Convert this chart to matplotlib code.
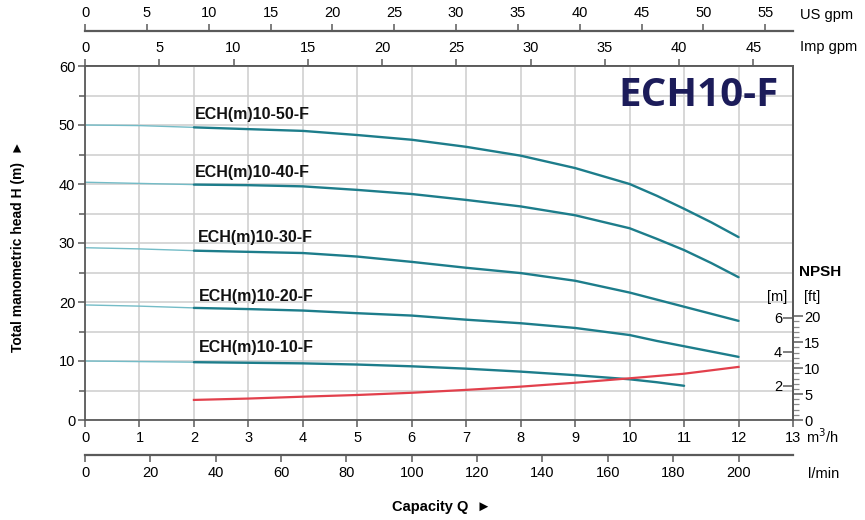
import matplotlib
matplotlib.use('Agg')
import matplotlib.pyplot as plt
from matplotlib.ticker import FixedLocator, MultipleLocator

FONT = ['Liberation Sans Narrow', 'Liberation Sans', 'DejaVu Sans']
plt.rcParams['font.family'] = FONT

# ---------------- data ----------------
q_curve = [0, 1, 2, 3, 4, 5, 6, 7, 8, 9, 10, 10.5, 11, 11.5, 12]
head_50 = [50.0, 49.9, 49.6, 49.3, 49.0, 48.3, 47.5, 46.3, 44.8, 42.7, 40.0, 38.0, 35.8, 33.5, 31.0]
head_40 = [40.3, 40.1, 39.9, 39.8, 39.6, 39.0, 38.3, 37.3, 36.2, 34.7, 32.5, 30.7, 28.8, 26.6, 24.2]
head_30 = [29.2, 29.0, 28.7, 28.5, 28.3, 27.7, 26.8, 25.8, 24.9, 23.6, 21.6, 20.4, 19.2, 18.0, 16.8]
head_20 = [19.5, 19.3, 19.0, 18.8, 18.55, 18.1, 17.7, 17.0, 16.4, 15.6, 14.4, 13.4, 12.5, 11.6, 10.7]
q_10 = [0, 1, 2, 3, 4, 5, 6, 7, 8, 9, 10, 10.5, 11]
head_10 = [10.0, 9.9, 9.8, 9.7, 9.6, 9.4, 9.1, 8.7, 8.2, 7.6, 6.9, 6.4, 5.8]

q_npsh = [2, 3, 4, 5, 6, 7, 8, 9, 10, 11, 12]
npsh_m = [1.18, 1.26, 1.37, 1.47, 1.60, 1.77, 1.96, 2.19, 2.45, 2.72, 3.12]

model_names = ['ECH(m)10-50-F', 'ECH(m)10-40-F', 'ECH(m)10-30-F', 'ECH(m)10-20-F', 'ECH(m)10-10-F']
title_text = 'ECH10-F'

m3h_ticks = list(range(0, 14))
head_ticks = list(range(0, 61, 10))
us_gpm_ticks = list(range(0, 56, 5))
imp_gpm_ticks = list(range(0, 46, 5))
lmin_ticks = list(range(0, 201, 20))
npsh_m_ticks = [2, 4, 6]
npsh_ft_ticks = [0, 5, 10, 15, 20]

# ---------------- styles ----------------
TEAL = '#1d7d8b'
TEAL_LIGHT = '#74bcc7'
RED = '#e2404c'
GRID = '#cdcdcd'
SPINE = '#5a5a5a'
NAVY = '#1c1c5a'
W, H = 865, 520

fig = plt.figure(figsize=(W / 100, H / 100), dpi=100)
ax = fig.add_axes([85 / W, 100 / H, 708 / W, 354 / H])
ax.set_xlim(0, 13)
ax.set_ylim(0, 60)
ax.set_xticks(m3h_ticks)
ax.set_yticks(head_ticks)
ax.yaxis.set_minor_locator(MultipleLocator(5))
ax.grid(True, axis='x', which='major', color=GRID, lw=1.1)
ax.grid(True, axis='y', which='both', color=GRID, lw=1.1)
ax.set_axisbelow(True)
ax.tick_params(axis='both', which='major', direction='out', length=5, width=1.1,
               color=SPINE, labelsize=10.5, pad=3)
ax.tick_params(axis='y', which='minor', direction='out', length=4, width=1.1, color=SPINE)
ax.tick_params(axis='y', pad=2)
for s in ax.spines.values():
    s.set_color(SPINE)
    s.set_linewidth(1.3)

# pump curves: thin light segment up to Q=2, thick from Q=2
curves = [(q_curve, head_50), (q_curve, head_40), (q_curve, head_30),
          (q_curve, head_20), (q_10, head_10)]
for qs, hs in curves:
    first = [(q, h) for q, h in zip(qs, hs) if q <= 2]
    rest = [(q, h) for q, h in zip(qs, hs) if q >= 2]
    ax.plot([p[0] for p in first], [p[1] for p in first], color=TEAL_LIGHT, lw=1.0,
            solid_capstyle='round')
    ax.plot([p[0] for p in rest], [p[1] for p in rest], color=TEAL, lw=1.7,
            solid_capstyle='round')

label_pos = [(2.02, 51.7), (2.02, 42.0), (2.08, 31.0), (2.1, 21.0), (2.1, 12.3)]
for name, (lx, ly) in zip(model_names, label_pos):
    ax.text(lx, ly, name, fontsize=11.5, fontweight='bold', ha='left', va='center',
            family=['Liberation Sans', 'DejaVu Sans'], color='#111111')

# NPSH curve on its own scale
ax_n = ax.twinx()
ax_n.set_ylim(0, 20.8)
ax_n.set_yticks([])
for s in ax_n.spines.values():
    s.set_visible(False)
ax_n.plot(q_npsh, npsh_m, color=RED, lw=1.6)

sec_m = ax_n.secondary_yaxis(1.0)
sec_m.set_alignment('left')
sec_m.set_yticks(npsh_m_ticks)
sec_m.tick_params(direction='out', length=7, width=1.1, color=SPINE, labelsize=10.5, pad=1)
sec_m.spines['left'].set_color(SPINE)
sec_m.spines['left'].set_linewidth(1.3)

M2FT = 3.28084
sec_ft = ax_n.secondary_yaxis(1.0, functions=(lambda m: m * M2FT, lambda f: f / M2FT))
sec_ft.set_yticks(npsh_ft_ticks)
sec_ft.yaxis.set_minor_locator(FixedLocator(list(range(0, 21))))
sec_ft.tick_params(which='major', direction='out', length=7, width=1.1, color=SPINE,
                   labelsize=10.5, pad=1)
sec_ft.tick_params(which='minor', direction='out', length=4, width=0.9, color='#8a8a8a')
sec_ft.spines['right'].set_color(SPINE)
sec_ft.spines['right'].set_linewidth(1.3)

# secondary flow scales
US_GAL = 3.785411784
IMP_GAL = 4.54609
sec_imp = ax.secondary_xaxis('top', functions=(lambda x: x * 1000 / 60 / IMP_GAL,
                                                lambda g: g * 60 * IMP_GAL / 1000))
sec_imp.set_xticks(imp_gpm_ticks)
sec_imp.tick_params(direction='out', length=5, width=1.1, color=SPINE, labelsize=10.5, pad=3)
sec_imp.spines['top'].set_color(SPINE)
sec_imp.spines['top'].set_linewidth(1.3)

sec_us = ax.secondary_xaxis(1 + 35 / 354, functions=(lambda x: x * 1000 / 60 / US_GAL,
                                                      lambda g: g * 60 * US_GAL / 1000))
sec_us.set_xticks(us_gpm_ticks)
sec_us.tick_params(direction='out', length=5, width=1.1, color=SPINE, labelsize=10.5, pad=3)
sec_us.spines['top'].set_color(SPINE)
sec_us.spines['top'].set_linewidth(1.6)

sec_l = ax.secondary_xaxis(-35 / 354, functions=(lambda x: x * 1000 / 60,
                                                  lambda l: l * 60 / 1000))
sec_l.set_xticks(lmin_ticks)
sec_l.tick_params(direction='out', length=5, width=1.1, color=SPINE, labelsize=10.5, pad=3)
sec_l.spines['bottom'].set_color(SPINE)
sec_l.spines['bottom'].set_linewidth(1.6)

# texts
def ftxt(x, y, s, **kw):
    fig.text(x / W, 1 - y / H, s, **kw)

ftxt(800, 15, 'US gpm', fontsize=10.5, ha='left', va='center')
ftxt(800, 47, 'Imp gpm', fontsize=10.5, ha='left', va='center')
ftxt(806, 437, 'm$^3$/h', fontsize=10.5, ha='left', va='center')
ftxt(808, 474, 'l/min', fontsize=10.5, ha='left', va='center')
ftxt(820, 272, 'NPSH', fontsize=11, fontweight='bold', ha='center', va='center',
     family=['Liberation Sans', 'DejaVu Sans'])
ftxt(777, 297, '[m]', fontsize=10.5, ha='center', va='center')
ftxt(812, 297, '[ft]', fontsize=10.5, ha='center', va='center')
ftxt(442, 507, 'Capacity Q  \u25BA', fontsize=10.5, fontweight='bold', ha='center', va='center',
     family=['Liberation Sans', 'DejaVu Sans'])
ftxt(18, 246, 'Total manometric head H (m)  \u25BA', fontsize=10, fontweight='bold',
     rotation=90, ha='center', va='center', family=['Liberation Sans', 'DejaVu Sans'])
ftxt(779, 96, title_text, fontsize=29, fontweight='bold', color=NAVY, ha='right', va='center',
     family=['Open Sans', 'DejaVu Sans'])

fig.savefig('out.png', dpi=100)
